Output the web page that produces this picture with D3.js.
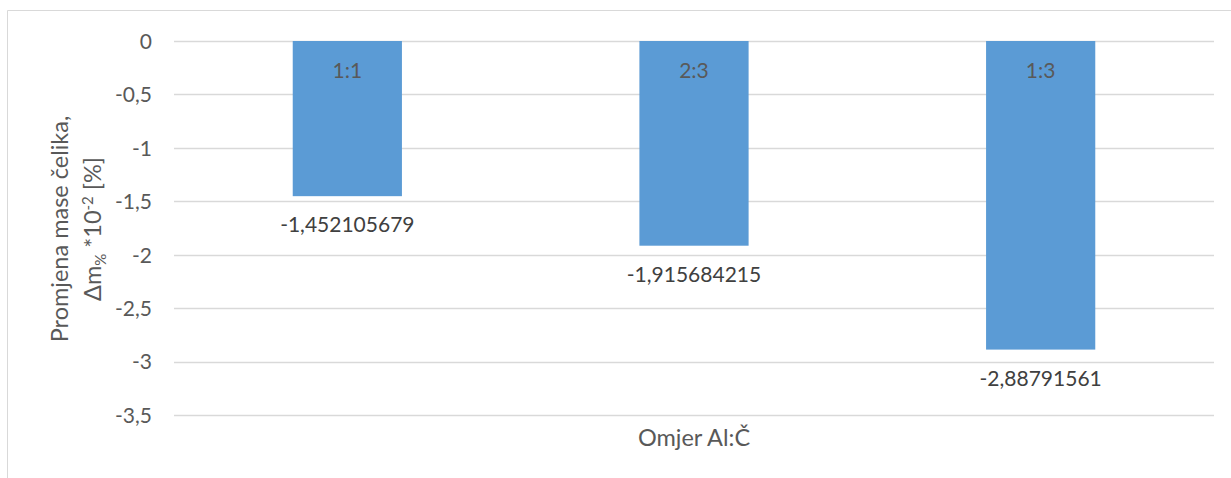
<!DOCTYPE html>
<html><head><meta charset="utf-8">
<script src="https://cdn.jsdelivr.net/npm/d3@7"></script>
<style>body{margin:0;background:#fff;}svg{display:block;}</style>
</head><body>
<svg id="c" width="1231" height="478"></svg>
<script>
const categories = ["1:1", "2:3", "1:3"];
const values = [-1.452105679, -1.915684215, -2.88791561];
const valueLabels = ["-1,452105679", "-1,915684215", "-2,88791561"];
const yTicks = [0, -0.5, -1, -1.5, -2, -2.5, -3, -3.5];
const yTickLabels = ["0", "-0,5", "-1", "-1,5", "-2", "-2,5", "-3", "-3,5"];

(function () {
const font = "Lato, 'Open Sans', sans-serif";
const numSize = 21, titleSize = 23.5;
const svg = d3.select("#c");
const W = 1231, H = 478;
const pLeft = 174, pRight = 1214, pTop = 41, pBottom = 415;

// chart border
svg.append("path").attr("d", `M7.5,${H} L7.5,10.5 L${W},10.5`).attr("fill","none").attr("stroke","#d9d9d9").attr("stroke-width",1);

const x = d3.scaleBand().domain(categories).range([pLeft, pRight]).paddingInner(0.685).paddingOuter(0.3425);
const y = d3.scaleLinear().domain([-3.5, 0]).range([pBottom, pTop]);

// gridlines
svg.append("g").selectAll("line").data(yTicks).join("line")
  .attr("x1", pLeft).attr("x2", pRight)
  .attr("y1", d => Math.round(y(d)) + 0.5).attr("y2", d => Math.round(y(d)) + 0.5)
  .attr("stroke", "#d9d9d9").attr("stroke-width", 1.3);

// y axis labels
const yAxis = d3.axisLeft(y).tickValues(yTicks).tickFormat((d, i) => yTickLabels[i]).tickSize(0).tickPadding(0);
const ga = svg.append("g").attr("transform", `translate(152,0)`).call(yAxis);
ga.select(".domain").remove();
ga.selectAll("text").attr("font-family", font).attr("font-size", numSize).attr("fill", "#595959").attr("dy", "0.35em");

// bars
svg.append("g").selectAll("rect").data(values).join("rect")
  .attr("x", (d, i) => x(categories[i]))
  .attr("width", x.bandwidth())
  .attr("y", d => y(0))
  .attr("height", d => y(d) - y(0))
  .attr("fill", "#5b9bd5");

// category labels in bars
svg.append("g").selectAll("text").data(categories).join("text")
  .attr("x", d => x(d) + x.bandwidth() / 2)
  .attr("y", y(0) + 37)
  .attr("text-anchor", "middle")
  .attr("font-family", font).attr("font-size", numSize).attr("fill", "#595959")
  .text(d => d);

// value labels below bars
svg.append("g").selectAll("text").data(values).join("text")
  .attr("x", (d, i) => x(categories[i]) + x.bandwidth() / 2)
  .attr("y", d => y(d) + 36)
  .attr("text-anchor", "middle")
  .attr("font-family", font).attr("font-size", numSize).attr("fill", "#404040")
  .text((d, i) => valueLabels[i]);

// x axis title
svg.append("text").attr("x", (pLeft + pRight) / 2).attr("y", 446)
  .attr("text-anchor", "middle").attr("font-family", font).attr("font-size", titleSize).attr("fill", "#595959")
  .text("Omjer Al:Č");

// y axis title (two lines)
const cy = 229;
svg.append("text").attr("transform", `translate(68,${cy}) rotate(-90)`)
  .attr("text-anchor", "middle").attr("font-family", font).attr("font-size", titleSize).attr("fill", "#595959")
  .text("Promjena mase čelika,");
const t2 = svg.append("text").attr("transform", `translate(101,${cy}) rotate(-90)`)
  .attr("text-anchor", "middle").attr("font-family", font).attr("font-size", titleSize).attr("fill", "#595959");
t2.append("tspan").text("Δm");
t2.append("tspan").attr("font-size", 15).attr("dy", 5).text("%");
t2.append("tspan").attr("dy", -5).text(" *10");
t2.append("tspan").attr("font-size", 15).attr("dy", -8).text("-2");
t2.append("tspan").attr("dy", 8).text(" [%]");
})();
</script>
</body></html>
